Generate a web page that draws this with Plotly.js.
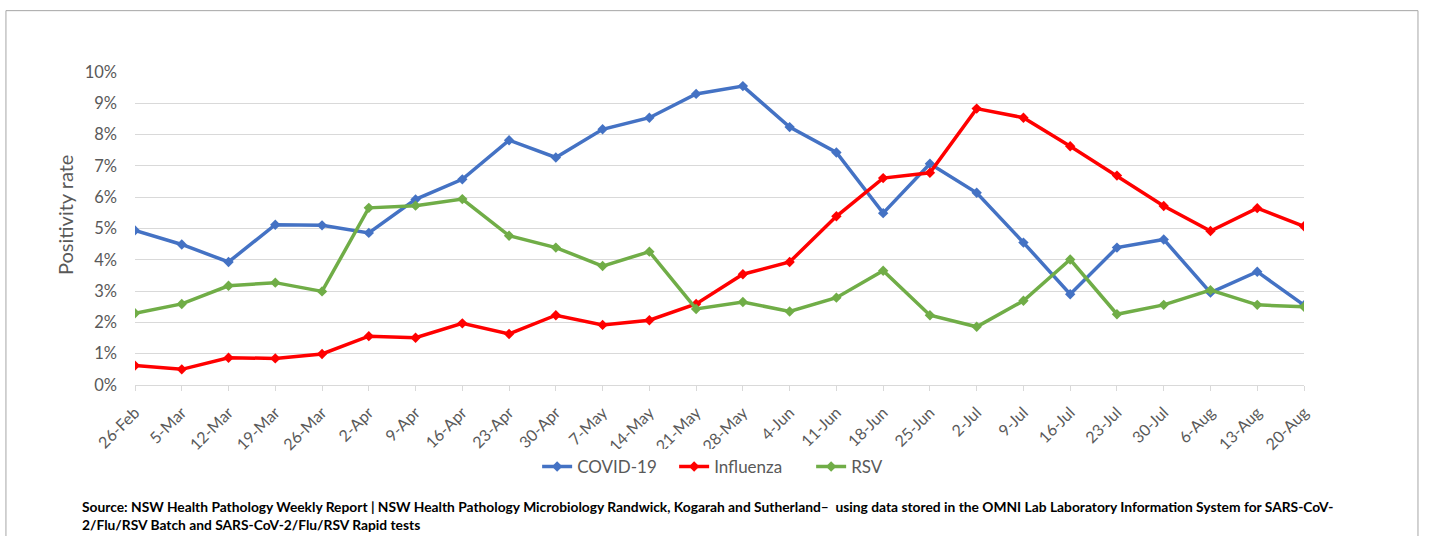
<!DOCTYPE html>
<html>
<head>
<meta charset="utf-8">
<script src="https://cdn.plot.ly/plotly-3.0.1.min.js"></script>
<style>html,body{margin:0;padding:0;background:#fff;}#chart{width:1429px;height:536px;}</style>
</head>
<body>
<div id="chart"></div>
<script>
const weeks = ["26-Feb","5-Mar","12-Mar","19-Mar","26-Mar","2-Apr","9-Apr","16-Apr","23-Apr","30-Apr","7-May","14-May","21-May","28-May","4-Jun","11-Jun","18-Jun","25-Jun","2-Jul","9-Jul","16-Jul","23-Jul","30-Jul","6-Aug","13-Aug","20-Aug"];
const covid = [4.94,4.49,3.93,5.12,5.10,4.86,5.93,6.57,7.82,7.27,8.17,8.54,9.30,9.55,8.24,7.43,5.49,7.07,6.14,4.55,2.90,4.39,4.65,2.95,3.62,2.55];
const influenza = [0.62,0.50,0.87,0.85,0.99,1.56,1.51,1.97,1.63,2.23,1.92,2.07,2.59,3.54,3.93,5.39,6.61,6.78,8.83,8.54,7.63,6.69,5.72,4.92,5.65,5.07];
const rsv = [2.29,2.59,3.17,3.27,2.99,5.66,5.73,5.94,4.77,4.39,3.80,4.26,2.43,2.65,2.35,2.79,3.65,2.23,1.86,2.69,4.01,2.26,2.56,3.03,2.56,2.50];
const seriesNames = ["COVID-19","Influenza","RSV"];
const seriesColors = ["#4472C4","#FF0000","#70AD47"];
const yTickVals = [0,1,2,3,4,5,6,7,8,9,10];
const yTickText = yTickVals.map(v => v + "%");
const yTitle = "Positivity rate";
const sourceText = "<b>Source: NSW Health Pathology Weekly Report | NSW Health Pathology Microbiology Randwick, Kogarah and Sutherland–  using data stored in the OMNI Lab Laboratory Information System for SARS-CoV-</b><br><b>2/Flu/RSV Batch and SARS-CoV-2/Flu/RSV Rapid tests</b>";

const FONT = "Lato, 'Open Sans', sans-serif";
const values = [covid, influenza, rsv];
const traces = values.map((v, k) => ({
  type: "scatter",
  mode: "lines+markers",
  x: weeks,
  y: v,
  name: seriesNames[k],
  line: {color: seriesColors[k], width: 3.5},
  marker: {symbol: "diamond", size: 8, color: seriesColors[k]}
}));

const layout = {
  width: 1429, height: 536,
  margin: {l: 135, r: 125, t: 71.5, b: 151, pad: 0},
  paper_bgcolor: "#ffffff",
  plot_bgcolor: "#ffffff",
  font: {family: FONT, color: "#595959"},
  showlegend: true,
  legend: {
    orientation: "h", x: 0.344, xanchor: "left", y: -0.262, yanchor: "middle",
    font: {size: 17, color: "#595959", family: FONT},
    entrywidth: 92, entrywidthmode: "pixels", tracegroupgap: 0
  },
  xaxis: {
    type: "category",
    range: [0, weeks.length - 1],
    tickangle: -45,
    tickfont: {size: 16, color: "#595959", family: FONT},
    showgrid: false,
    showline: true, linecolor: "#d9d9d9", linewidth: 1,
    ticks: "outside", ticklen: 5, tickcolor: "#d9d9d9",
    ticklabelstandoff: 6,
    zeroline: false, fixedrange: true
  },
  yaxis: {
    range: [0, 10],
    tickvals: yTickVals,
    ticktext: yTickText,
    tickfont: {size: 16.5, color: "#595959", family: FONT},
    showgrid: true, gridcolor: "#d9d9d9", gridwidth: 1,
    zeroline: false, showline: false,
    ticks: "", ticklabelstandoff: 17,
    fixedrange: true
  },
  shapes: [{
    type: "rect", xref: "paper", yref: "paper",
    x0: -0.1104, x1: 1.0975, y0: -0.62, y1: 1.196,
    line: {color: "#a6a6a6", width: 1}, fillcolor: "rgba(0,0,0,0)", layer: "below"
  }],
  annotations: [{
    xref: "paper", yref: "paper", x: -0.0599, y: 0.543,
    xanchor: "center", yanchor: "middle", textangle: -90,
    text: yTitle, showarrow: false,
    font: {size: 20, color: "#595959", family: FONT}
  }, {
    xref: "paper", yref: "paper", x: -0.047, y: -0.418,
    xanchor: "left", yanchor: "middle", align: "left",
    text: sourceText, showarrow: false,
    font: {size: 13.8, color: "#000000", family: FONT}
  }]
};

Plotly.newPlot("chart", traces, layout, {displayModeBar: false, staticPlot: true});
</script>
</body>
</html>
